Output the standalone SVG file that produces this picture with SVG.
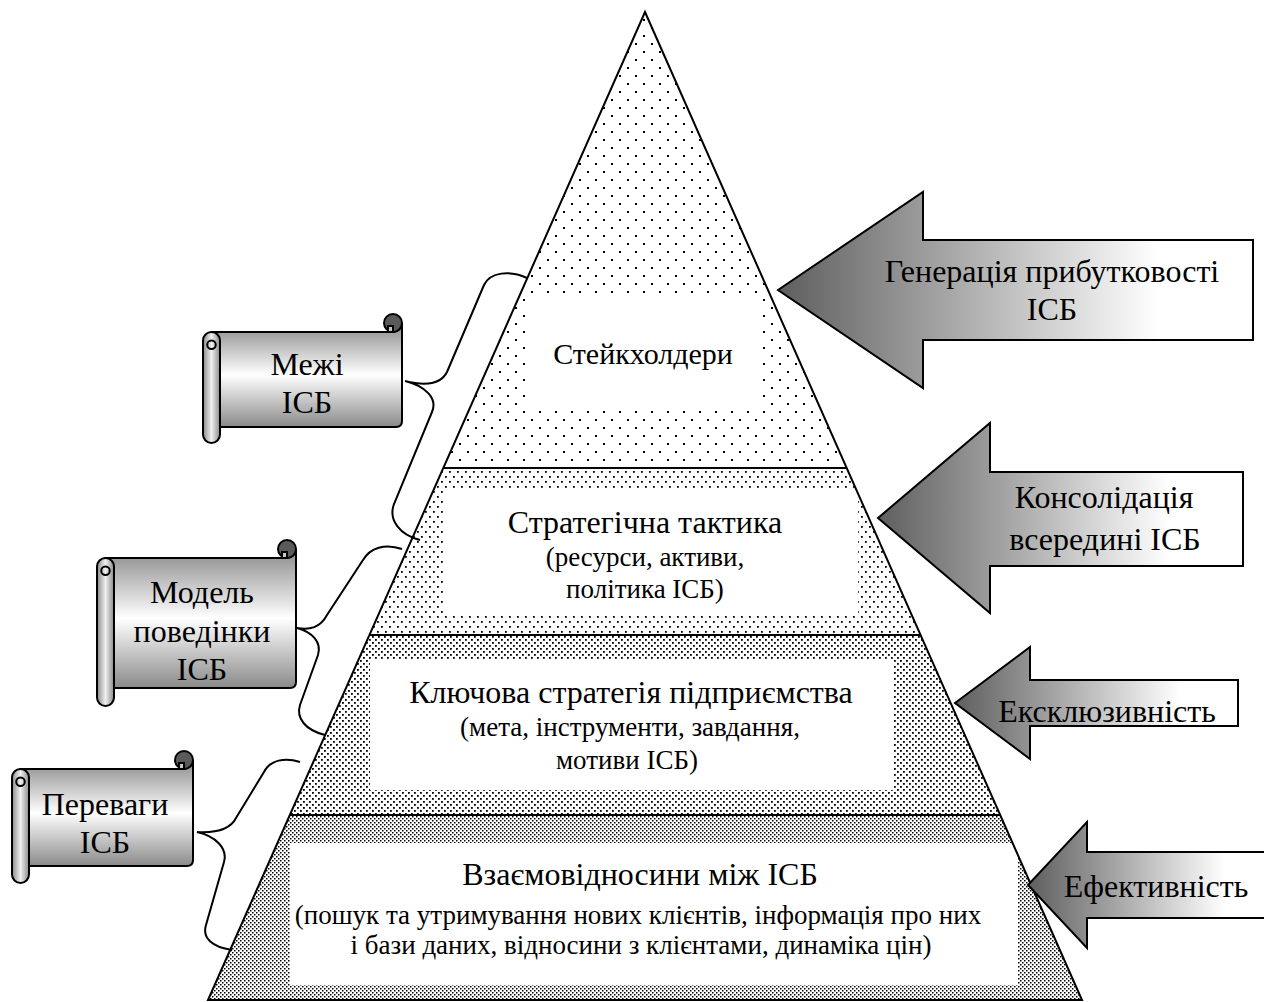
<svg xmlns="http://www.w3.org/2000/svg" width="1264" height="1002" viewBox="0 0 1264 1002">
<style>
.t{font-family:"Liberation Serif","Times New Roman",serif;fill:#000;text-anchor:middle}
.big{font-size:32px}
.mid{font-size:30px}
.sm{font-size:27px}
.ln{fill:none;stroke:#000;stroke-width:2}
.sc{stroke:#000;stroke-width:2}
.ar{fill:url(#ag);stroke:#000;stroke-width:2;stroke-linejoin:miter}
</style>
<defs>
<pattern id="p1" patternUnits="userSpaceOnUse" width="16" height="16"><rect width="16" height="16" fill="#fff"/><rect x="3" y="3" width="2" height="2" fill="#000"/><rect x="11" y="11" width="2" height="2" fill="#000"/></pattern>
<pattern id="p2" patternUnits="userSpaceOnUse" width="8" height="10"><rect width="8" height="10" fill="#fff"/><rect x="1" y="1" width="1.8" height="1.8" fill="#000"/><rect x="5" y="6" width="1.8" height="1.8" fill="#000"/></pattern>
<pattern id="p3" patternUnits="userSpaceOnUse" width="6" height="6"><rect width="6" height="6" fill="#fff"/><rect x="0" y="0" width="1.8" height="1.8" fill="#000"/><rect x="3" y="3" width="1.8" height="1.8" fill="#000"/></pattern>
<pattern id="p4" patternUnits="userSpaceOnUse" width="4" height="4"><rect width="4" height="4" fill="#fff"/><rect x="0" y="0" width="1.5" height="1.5" fill="#000"/><rect x="2" y="2" width="1.5" height="1.5" fill="#000"/></pattern>
<linearGradient id="ag" x1="0" y1="0" x2="1" y2="0"><stop offset="0" stop-color="#5e5e5e"/><stop offset="0.8" stop-color="#fff"/><stop offset="1" stop-color="#fff"/></linearGradient>
<linearGradient id="sb" x1="0" y1="0" x2="0" y2="1"><stop offset="0" stop-color="#8a8a8a"/><stop offset="0.5" stop-color="#fff"/><stop offset="1" stop-color="#8a8a8a"/></linearGradient>
<linearGradient id="sr" x1="0" y1="0" x2="1" y2="0"><stop offset="0" stop-color="#8a8a8a"/><stop offset="0.5" stop-color="#f0f0f0"/><stop offset="1" stop-color="#8a8a8a"/></linearGradient>
<clipPath id="pyr"><polygon points="645,12 1082,1000 208,1000"/></clipPath>
</defs>

<g id="pyramid">
<polygon points="645,12 846.7,468 443.3,468" fill="url(#p1)"/>
<polygon points="443.3,468 846.7,468 920.6,635 369.4,635" fill="url(#p2)"/>
<polygon points="369.4,635 920.6,635 1000.2,815 289.8,815" fill="url(#p3)"/>
<polygon points="289.8,815 1000.2,815 1082,1000 208,1000" fill="url(#p4)"/>
<g clip-path="url(#pyr)" fill="#fff">
<rect x="530" y="293" width="232" height="117"/>
<rect x="445" y="491" width="413" height="124"/>
<rect x="370" y="660" width="523" height="130"/>
<rect x="290" y="843" width="728" height="142"/>
</g>
<line class="ln" x1="443.3" y1="468" x2="846.7" y2="468"/>
<line class="ln" x1="369.4" y1="635" x2="920.6" y2="635"/>
<line class="ln" x1="289.8" y1="815" x2="1000.2" y2="815"/>
<polygon class="ln" points="645,12 1082,1000 208,1000"/>
</g>

<g id="level1"><text class="t mid" x="643" y="364">Стейкхолдери</text></g>
<g id="level2">
<text class="t big" x="645" y="533">Стратегічна тактика</text>
<text class="t sm" x="645" y="566">(ресурси, активи,</text>
<text class="t sm" x="645" y="598">політика ІСБ)</text>
</g>
<g id="level3">
<text class="t big" x="631" y="703">Ключова стратегія підприємства</text>
<text class="t sm" x="630" y="736">(мета, інструменти, завдання,</text>
<text class="t sm" x="627" y="769">мотиви ІСБ)</text>
</g>
<g id="level4">
<text class="t big" x="640" y="885">Взаємовідносини між ІСБ</text>
<text class="t sm" x="638" y="924">(пошук та утримування нових клієнтів, інформація про них</text>
<text class="t sm" x="641" y="954">і бази даних, відносини з клієнтами, динаміка цін)</text>
</g>

<g id="connectors">
<path class="ln" d="M527,278 C510,270 490,272 484,285 L447,372 C441,384 425,386 405,381 C425,386 438,398 432,412 L394,504 C388,520 400,535 420,540"/>
<path class="ln" d="M402,549 C385,543 370,548 363,560 L327,615 C320,628 310,630 297,628 C312,632 322,642 318,655 L300,705 C296,718 305,730 325,735"/>
<path class="ln" d="M300,762 C285,757 270,760 264,772 L236,818 C230,830 215,833 197,832 C215,836 228,848 224,862 L206,925 C202,938 212,947 232,950"/>
</g>

<g id="scroll1">
<path class="sc" fill="url(#sb)" d="M211.5,332 H393 A9,9 0 0 0 402,323 V421 Q402,427 396,427 H211.5 Z"/>
<circle class="sc" cx="393" cy="323" r="9" fill="#5a5a5a"/>
<path class="sc" fill="#c8c8c8" stroke-width="1.5" d="M388,326 H393 V332 H388 Z"/>
<path class="sc" fill="url(#sr)" d="M203,340.5 A8.5,8.5 0 0 1 220,340.5 V434.5 A8.5,8.5 0 0 1 203,434.5 Z"/>
<path class="ln" stroke-width="1.5" d="M211.5,349 A4.25,4.25 0 0 1 211.5,340.5 A4.25,4.25 0 0 1 211.5,349"/>
<text class="t big" x="307" y="375">Межі</text>
<text class="t big" x="307" y="413">ІСБ</text>
</g>

<g id="scroll2">
<path class="sc" fill="url(#sb)" d="M105.5,558 H287 A9,9 0 0 0 296,549 V682 Q296,688 290,688 H105.5 Z"/>
<circle class="sc" cx="287" cy="549" r="9" fill="#5a5a5a"/>
<path class="sc" fill="#c8c8c8" stroke-width="1.5" d="M282,552 H287 V558 H282 Z"/>
<path class="sc" fill="url(#sr)" d="M97,566.5 A8.5,8.5 0 0 1 114,566.5 V697.5 A8.5,8.5 0 0 1 97,697.5 Z"/>
<path class="ln" stroke-width="1.5" d="M105.5,575 A4.25,4.25 0 0 1 105.5,566.5 A4.25,4.25 0 0 1 105.5,575"/>
<text class="t big" x="202" y="603">Модель</text>
<text class="t big" x="202" y="642">поведінки</text>
<text class="t big" x="202" y="680">ІСБ</text>
</g>

<g id="scroll3">
<path class="sc" fill="url(#sb)" d="M20.5,769 H184 A9,9 0 0 0 193,760 V860 Q193,866 187,866 H20.5 Z"/>
<circle class="sc" cx="184" cy="760" r="9" fill="#5a5a5a"/>
<path class="sc" fill="#c8c8c8" stroke-width="1.5" d="M179,763 H184 V769 H179 Z"/>
<path class="sc" fill="url(#sr)" d="M12,777.5 A8.5,8.5 0 0 1 29,777.5 V874.5 A8.5,8.5 0 0 1 12,874.5 Z"/>
<path class="ln" stroke-width="1.5" d="M20.5,786 A4.25,4.25 0 0 1 20.5,777.5 A4.25,4.25 0 0 1 20.5,786"/>
<text class="t big" x="105" y="815">Переваги</text>
<text class="t big" x="105" y="853">ІСБ</text>
</g>

<g id="arrow1">
<polygon class="ar" points="778,290 923,192 923,240 1253,240 1253,340 923,340 923,388"/>
<text class="t big" x="1052" y="282">Генерація прибутковості</text>
<text class="t big" x="1052" y="320">ІСБ</text>
</g>
<g id="arrow2">
<polygon class="ar" points="878,518 990,423 990,472 1243,472 1243,566 990,566 990,613"/>
<text class="t big" x="1104" y="508">Консолідація</text>
<text class="t big" x="1105" y="550">всередині ІСБ</text>
</g>
<g id="arrow3">
<polygon class="ar" points="955,703 1030,647 1030,680 1238,680 1238,726 1030,726 1030,759"/>
<text class="t big" x="1107" y="722">Ексклюзивність</text>
</g>
<g id="arrow4">
<polygon class="ar" points="1028,885 1087,822 1087,852 1275,852 1275,918 1087,918 1087,948"/>
<text class="t big" x="1156" y="897">Ефективність</text>
</g>
</svg>
